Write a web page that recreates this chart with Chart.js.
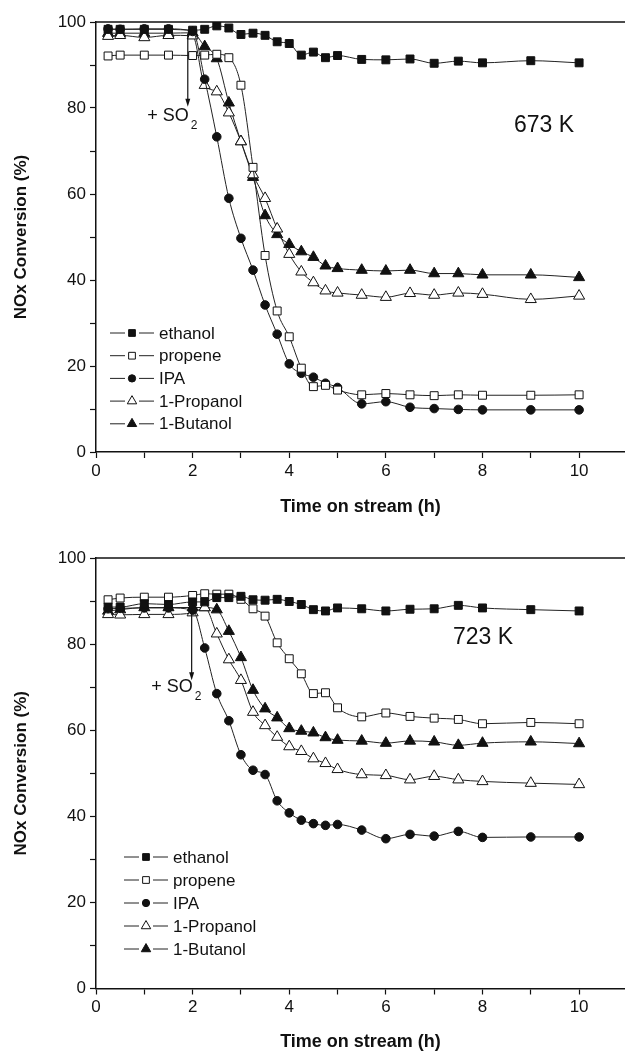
<!DOCTYPE html>
<html>
<head>
<meta charset="utf-8">
<script src="https://cdn.jsdelivr.net/npm/chart.js@4/dist/chart.umd.min.js"></script>
<style>
  body { margin: 0; background: #fff; }
  #wrap { position: relative; width: 625px; height: 1053px; }
  canvas { position: absolute; left: 0; }
</style>
</head>
<body>
<div id="wrap">
  <canvas id="c673" width="625" height="530" style="top:0"></canvas>
  <canvas id="c723" width="625" height="523" style="top:530px"></canvas>
</div>
<script>
// time on stream (h)
const times = [0.25, 0.5, 1, 1.5, 2, 2.25, 2.5, 2.75, 3, 3.25, 3.5, 3.75, 4, 4.25, 4.5, 4.75, 5, 5.5, 6, 6.5, 7, 7.5, 8, 9, 10];
const seriesNames = ['ethanol', 'propene', 'IPA', '1-Propanol', '1-Butanol'];

// 673 K
const ethanol673  = [98.3, 98.3, 98.3, 98.3, 98.1, 98.3, 99.1, 98.6, 97.1, 97.4, 96.9, 95.4, 95.0, 92.3, 93.0, 91.7, 92.2, 91.3, 91.2, 91.4, 90.4, 90.9, 90.5, 91.0, 90.5];
const propene673  = [92.1, 92.3, 92.3, 92.3, 92.2, 92.3, 92.5, 91.7, 85.3, 66.2, 45.7, 32.8, 26.8, 19.5, 15.2, 15.5, 14.4, 13.3, 13.6, 13.3, 13.1, 13.3, 13.2, 13.2, 13.3];
const ipa673      = [98.4, 98.3, 98.4, 98.4, 97.8, 86.7, 73.3, 59.0, 49.7, 42.3, 34.2, 27.4, 20.5, 18.3, 17.4, 16.0, 15.0, 11.2, 11.7, 10.4, 10.1, 9.9, 9.8, 9.8, 9.8];
const propanol673 = [96.7, 96.9, 96.4, 96.9, 96.8, 85.3, 83.8, 78.9, 72.2, 64.5, 59.0, 51.9, 46.0, 41.9, 39.4, 37.5, 37.0, 36.5, 36.0, 36.9, 36.5, 37.0, 36.7, 35.5, 36.3];
const butanol673  = [97.4, 97.4, 97.4, 97.4, 97.5, 94.3, 91.5, 81.2, 72.2, 63.9, 55.0, 50.6, 48.3, 46.6, 45.3, 43.3, 42.7, 42.3, 42.1, 42.3, 41.5, 41.5, 41.2, 41.2, 40.6];

// 723 K
const ethanol723  = [88.6, 88.6, 89.4, 89.2, 89.8, 89.8, 90.8, 90.8, 91.1, 90.3, 90.2, 90.4, 89.9, 89.2, 88.0, 87.7, 88.4, 88.2, 87.7, 88.1, 88.2, 89.0, 88.4, 88.0, 87.7];
const propene723  = [90.3, 90.7, 90.9, 90.9, 91.3, 91.7, 91.6, 91.6, 90.4, 88.2, 86.5, 80.3, 76.6, 73.1, 68.5, 68.7, 65.2, 63.1, 64.0, 63.2, 62.8, 62.5, 61.5, 61.8, 61.5];
const ipa723      = [88.2, 88.3, 88.4, 88.4, 87.9, 79.1, 68.5, 62.2, 54.3, 50.7, 49.7, 43.6, 40.8, 39.1, 38.3, 37.9, 38.1, 36.8, 34.8, 35.8, 35.4, 36.5, 35.1, 35.2, 35.2];
const propanol723 = [86.9, 86.8, 86.9, 86.9, 87.3, 88.5, 82.4, 76.4, 71.6, 64.2, 61.1, 58.4, 56.2, 55.1, 53.4, 52.3, 50.9, 49.7, 49.5, 48.5, 49.3, 48.5, 48.1, 47.7, 47.4];
const butanol723  = [87.7, 88.0, 88.5, 88.5, 88.5, 88.5, 88.0, 83.0, 76.9, 69.3, 65.0, 62.9, 60.4, 59.8, 59.4, 58.3, 57.7, 57.5, 57.0, 57.5, 57.3, 56.5, 57.0, 57.3, 56.9];

const xTicks = [0, 2, 4, 6, 8, 10];
const yTicks = [0, 20, 40, 60, 80, 100];

const FONT = '"Liberation Sans", Arial, Helvetica, sans-serif';
const INK = '#111';

// marker look for each series
const markers = [
  { style: 'rect', fill: INK, radius: 5.6 },
  { style: 'rect', fill: '#fff', radius: 5.6 },
  { style: 'circle', fill: INK, radius: 4.3 },
  { style: 'triangle', fill: '#fff', radius: 6.4 },
  { style: 'triangle', fill: INK, radius: 6.4 }
];

function makeDatasets(values) {
  return values.map((vals, i) => ({
    label: seriesNames[i],
    data: times.map((t, k) => ({ x: t, y: vals[k] })),
    borderColor: '#222',
    borderWidth: 1,
    pointStyle: markers[i].style,
    pointRadius: markers[i].radius,
    pointBackgroundColor: markers[i].fill,
    pointBorderColor: INK,
    pointBorderWidth: 1,
    cubicInterpolationMode: 'monotone',
    fill: false
  }));
}

function drawMarker(ctx, m, x, y, scale) {
  let r = m.radius * scale;
  ctx.beginPath();
  if (m.style === 'rect') {
    let s = r * Math.SQRT1_2;
    ctx.rect(x - s, y - s, 2 * s, 2 * s);
  } else if (m.style === 'circle') {
    ctx.arc(x, y, r, 0, Math.PI * 2);
  } else {
    ctx.moveTo(x, y - r);
    ctx.lineTo(x + r * Math.sin(2 * Math.PI / 3), y - r * Math.cos(2 * Math.PI / 3));
    ctx.lineTo(x + r * Math.sin(4 * Math.PI / 3), y - r * Math.cos(4 * Math.PI / 3));
    ctx.closePath();
  }
  ctx.fillStyle = m.fill;
  ctx.fill();
  ctx.lineWidth = 1;
  ctx.strokeStyle = INK;
  ctx.stroke();
}

// top frame line, legend, temperature label and the SO2 arrow
const extras = {
  id: 'extras',
  afterDraw(chart, args, opts) {
    let ctx = chart.ctx;
    let area = chart.chartArea;
    let xs = chart.scales.x, ys = chart.scales.y;
    ctx.save();

    ctx.strokeStyle = INK;
    ctx.lineWidth = 1.5;
    ctx.beginPath();
    ctx.moveTo(area.left, area.top);
    ctx.lineTo(area.right, area.top);
    ctx.stroke();

    // legend
    ctx.font = '17px ' + FONT;
    ctx.textBaseline = 'middle';
    ctx.textAlign = 'left';
    seriesNames.forEach((name, i) => {
      let y = opts.legendY + i * opts.legendGap;
      let x0 = opts.legendX;
      ctx.strokeStyle = '#222';
      ctx.lineWidth = 1;
      ctx.beginPath();
      ctx.moveTo(x0, y);
      ctx.lineTo(x0 + 15, y);
      ctx.moveTo(x0 + 29, y);
      ctx.lineTo(x0 + 44, y);
      ctx.stroke();
      drawMarker(ctx, markers[i], x0 + 22, y, 0.85);
      ctx.fillStyle = INK;
      ctx.fillText(name, x0 + 49, y + 1);
    });

    // temperature
    ctx.font = '23px ' + FONT;
    ctx.textBaseline = 'alphabetic';
    ctx.fillStyle = INK;
    ctx.fillText(opts.temp, xs.getPixelForValue(opts.tempAt[0]), ys.getPixelForValue(opts.tempAt[1]));

    // + SO2 arrow
    let ax = xs.getPixelForValue(opts.arrowX);
    let ay0 = ys.getPixelForValue(opts.arrowY[0]);
    let ay1 = ys.getPixelForValue(opts.arrowY[1]);
    ctx.strokeStyle = INK;
    ctx.lineWidth = 1.2;
    ctx.beginPath();
    ctx.moveTo(ax, ay0);
    ctx.lineTo(ax, ay1 - 6);
    ctx.stroke();
    ctx.beginPath();
    ctx.moveTo(ax, ay1);
    ctx.lineTo(ax - 2.5, ay1 - 8);
    ctx.lineTo(ax + 2.5, ay1 - 8);
    ctx.closePath();
    ctx.fill();

    ctx.font = '18px ' + FONT;
    ctx.textAlign = 'right';
    ctx.fillText('+ SO', ax + 1, opts.soBase);
    ctx.font = '12px ' + FONT;
    ctx.textAlign = 'left';
    ctx.fillText('2', ax + 3, opts.soBase + 8);

    ctx.restore();
  }
};

function makeChart(id, values, padTop, xHeight, xTitlePad, extraOpts) {
  return new Chart(document.getElementById(id), {
    type: 'line',
    data: { datasets: makeDatasets(values) },
    plugins: [extras],
    options: {
      responsive: false,
      animation: false,
      layout: { autoPadding: false, padding: { top: padTop, left: 0, right: 0, bottom: 0 } },
      plugins: {
        legend: { display: false },
        tooltip: { enabled: false },
        extras: extraOpts
      },
      scales: {
        x: {
          type: 'linear',
          min: 0,
          max: 10.95,
          // plot runs off the right edge like the original figure
          afterFit: s => { s.height = xHeight; s.paddingLeft = 0; s.paddingRight = 0; },
          border: { color: INK, width: 1.5 },
          grid: { drawOnChartArea: false, drawTicks: true, tickLength: 6, color: INK, tickWidth: 1.2 },
          ticks: {
            stepSize: 1,
            includeBounds: false,
            autoSkip: false,
            maxRotation: 0,
            padding: 3,
            color: INK,
            font: { family: FONT, size: 17 },
            callback: v => xTicks.includes(v) ? String(v) : ''
          },
          title: {
            display: true,
            text: 'Time on stream (h)',
            color: INK,
            font: { family: FONT, size: 18, weight: 'bold' },
            padding: { top: 0, bottom: xTitlePad }
          }
        },
        y: {
          min: 0,
          max: 100,
          afterFit: s => { s.width = 96; s.paddingTop = 0; s.paddingBottom = 0; },
          border: { color: INK, width: 1.5 },
          grid: { drawOnChartArea: false, drawTicks: true, tickLength: 6, color: INK, tickWidth: 1.2 },
          ticks: {
            stepSize: 10,
            autoSkip: false,
            padding: 4,
            color: INK,
            font: { family: FONT, size: 17 },
            callback: v => yTicks.includes(v) ? String(v) : ''
          },
          title: {
            display: true,
            text: 'NOx Conversion (%)',
            color: INK,
            font: { family: FONT, size: 17, weight: 'bold' },
            padding: { top: 11, bottom: 0 }
          }
        }
      }
    }
  });
}

makeChart('c673', [ethanol673, propene673, ipa673, propanol673, butanol673], 22, 78, 12, {
  temp: '673 K', tempAt: [8.65, 74.4],
  arrowX: 1.9, arrowY: [97.4, 80.3], soBase: 121,
  legendX: 110, legendY: 333, legendGap: 22.7
});

makeChart('c723', [ethanol723, propene723, ipa723, propanol723, butanol723], 28, 64.5, 0, {
  temp: '723 K', tempAt: [7.39, 80.0],
  arrowX: 1.98, arrowY: [89.6, 71.6], soBase: 162,
  legendX: 124, legendY: 327, legendGap: 23
});
</script>
</body>
</html>
